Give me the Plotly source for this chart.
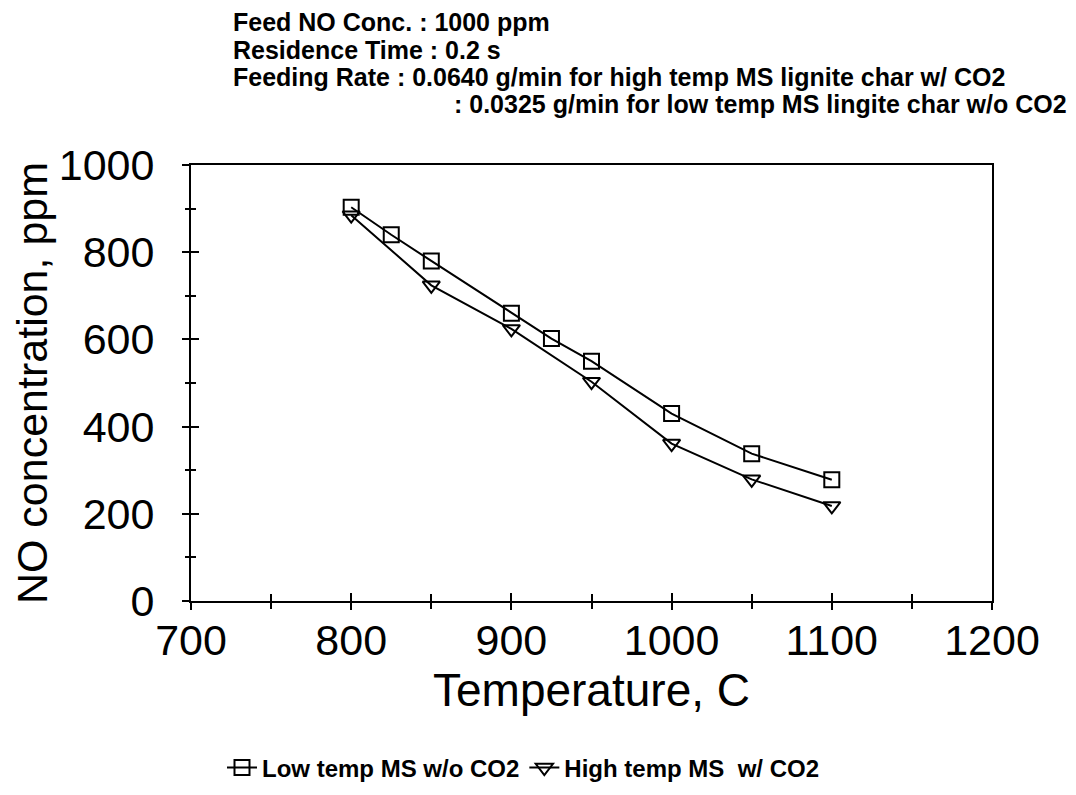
import plotly.graph_objects as go

temp_low = [800, 825, 850, 900, 925, 950, 1000, 1050, 1100]
no_low = [903, 840, 780, 660, 602, 550, 430, 338, 278]

temp_high = [800, 850, 900, 950, 1000, 1050, 1100]
no_high = [885, 724, 624, 503, 361, 279, 218]

x_ticks = [700, 800, 900, 1000, 1100, 1200]
y_ticks = [0, 200, 400, 600, 800, 1000]

FONT = "Liberation Sans, Arial, sans-serif"
NB = "\u00a0"

fig = go.Figure()
fig.add_trace(go.Scatter(
    x=temp_low, y=no_low, mode="lines+markers", name="<b>Low temp MS w/o CO2</b>",
    line=dict(color="black", width=2),
    marker=dict(symbol="square-open", size=15, color="black", line=dict(width=2)),
))
fig.add_trace(go.Scatter(
    x=temp_high, y=no_high, mode="lines+markers",
    name="<b>High temp MS" + NB * 2 + "w/ CO2</b>",
    xaxis="x2", yaxis="y2",
    line=dict(color="black", width=2),
    marker=dict(symbol="triangle-down-open", size=15, color="black", line=dict(width=2)),
))

tickfont = dict(family=FONT, size=43, color="black")

fig.update_layout(
    xaxis=dict(
        range=[700, 1200], tickvals=x_ticks, showgrid=False, zeroline=False,
        showline=True, linecolor="black", linewidth=2, mirror=True, automargin=False,
        ticks="inside", ticklen=8, tickwidth=2, tickcolor="black",
        minor=dict(dtick=50, ticks="inside", ticklen=7, tickwidth=2, tickcolor="black"),
        tickfont=tickfont, ticklabelstandoff=0,
        title=dict(text="Temperature, C", font=dict(family=FONT, size=46, color="black"), standoff=0),
    ),
    yaxis=dict(
        range=[0, 1000], tickvals=y_ticks, showgrid=False, zeroline=False,
        showline=True, linecolor="black", linewidth=2, mirror=True, automargin=False,
        ticks="inside", ticklen=8, tickwidth=2, tickcolor="black",
        minor=dict(dtick=100, ticks="inside", ticklen=5, tickwidth=2, tickcolor="black"),
        tickfont=tickfont, ticklabelstandoff=26,
        title=dict(text="NO concentration, ppm", font=dict(family=FONT, size=43, color="black"), standoff=18),
    ),
    xaxis2=dict(
        range=[700, 1200], tickvals=x_ticks, overlaying="x", anchor="y2", side="bottom",
        showgrid=False, zeroline=False, showline=False, showticklabels=False, automargin=False,
        ticks="outside", ticklen=8, tickwidth=2, tickcolor="black",
        minor=dict(dtick=50, ticks="outside", ticklen=7, tickwidth=2, tickcolor="black"),
    ),
    yaxis2=dict(
        range=[0, 1000], tickvals=y_ticks, overlaying="y", anchor="x2", side="left",
        showgrid=False, zeroline=False, showline=False, showticklabels=False, automargin=False,
        ticks="outside", ticklen=8, tickwidth=2, tickcolor="black",
        minor=dict(dtick=100, ticks="outside", ticklen=5, tickwidth=2, tickcolor="black"),
    ),
)

PLOT_TOP = 165
PLOT_H = 436
PLOT_L = 191
PLOT_W = 801

lines = [
    "Feed NO Conc. : 1000 ppm",
    "Residence Time : 0.2 s",
    "Feeding Rate : 0.0640 g/min for high temp MS lignite char w/ CO2",
]
line_y = [22, 50, 77]
for t, yy in zip(lines, line_y):
    fig.add_annotation(
        text="<b>" + t + "</b>", xref="paper", yref="paper",
        x=(232 - PLOT_L) / PLOT_W, y=1.0 + (PLOT_TOP - yy) / PLOT_H,
        xanchor="left", yanchor="middle", showarrow=False, borderpad=0,
        font=dict(family=FONT, size=25, color="black"),
    )
fig.add_annotation(
    text="<b>: 0.0325 g/min for low temp MS lingite char w/o CO2</b>", xref="paper", yref="paper",
    x=(1068 - PLOT_L) / PLOT_W, y=1.0 + (PLOT_TOP - 104) / PLOT_H,
    xanchor="right", yanchor="middle", showarrow=False, borderpad=0,
    font=dict(family=FONT, size=25, color="black"),
)

fig.update_layout(
    width=1076, height=795,
    margin=dict(l=183, r=92, t=157, b=202),
    paper_bgcolor="white", plot_bgcolor="white",
    showlegend=True,
    legend=dict(
        orientation="h", x=(222 - PLOT_L) / PLOT_W, xanchor="left",
        y=(PLOT_TOP + PLOT_H - 768) / PLOT_H, yanchor="middle",
        font=dict(family=FONT, size=24, color="black"), itemwidth=30,
        tracegroupgap=0,
    ),
)

fig.write_html("out.html")
